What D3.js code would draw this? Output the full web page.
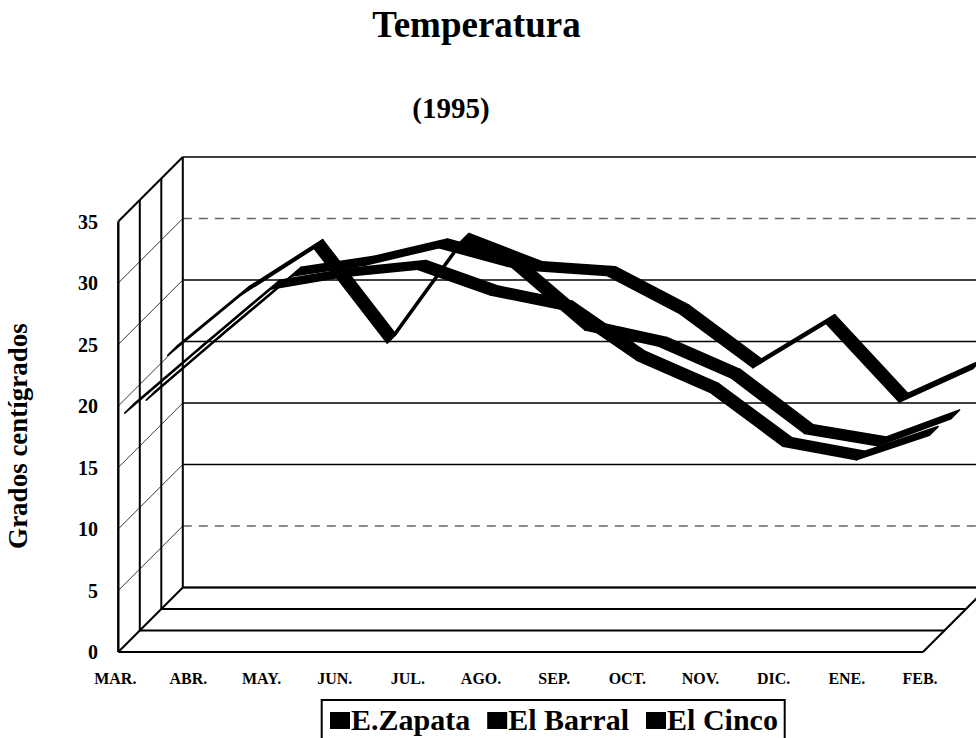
<!DOCTYPE html>
<html>
<head>
<meta charset="utf-8">
<script src="https://cdn.jsdelivr.net/npm/d3@7"></script>
<style>
  body { margin: 0; background: #fff; }
  text { font-family: "Liberation Serif", "Times New Roman", serif; font-weight: bold; fill: #000; }
</style>
</head>
<body>
<svg id="chart" width="976" height="738"></svg>
<script>
// Monthly mean temperature (°C), March 1995 to February 1996
const months = ["MAR.", "ABR.", "MAY.", "JUN.", "JUL.", "AGO.", "SEP.", "OCT.", "NOV.", "DIC.", "ENE.", "FEB."];
const seriesNames = ["E.Zapata", "El Barral", "El Cinco"];
const zapata = [18.9, 24.0, 29.0, 30.0, 30.6, 28.5, 27.3, 23.2, 20.6, 16.2, 15.1, 17.1];
const barral = [18.2, 23.3, 28.3, 29.2, 30.6, 29.0, 23.9, 22.6, 20.0, 15.5, 14.5, 16.7];
const cinco  = [20.1, 25.0, 28.8, 21.1, 29.3, 27.0, 26.6, 23.5, 19.1, 22.7, 16.3, 19.0];
const yTicks = [0, 5, 10, 15, 20, 25, 30, 35];

const seriesValues = [zapata, barral, cinco];

const svg = d3.select("#chart");

// Front plane of the 3-D box; depth runs up and to the right
const x = d3.scalePoint().domain(months).range([118.3, 923]);
const y = d3.scaleLinear().domain([0, 35]).range([652, 221.5]);
const depth = d3.scaleLinear().domain([0, seriesNames.length]).range([0, 64.5]);
const proj = (px, py, d) => [px + d, py - d];

const x0 = x.range()[0], x1 = x.range()[1];
const dMax = depth(seriesNames.length);
const line = d3.line();

const walls = svg.append("g");

// Back wall gridlines
yTicks.forEach(v => {
  const dashed = (v === 5 || v === 30);
  walls.append("path")
    .attr("d", line([proj(x0, y(v), dMax), proj(x1, y(v), dMax)]))
    .attr("fill", "none")
    .attr("stroke", dashed ? "#666" : "#000")
    .attr("stroke-width", dashed ? 1.4 : 1.5)
    .attr("stroke-dasharray", dashed ? "9,7" : null);
});

// Side wall gridlines (thin diagonals)
yTicks.filter(v => v > 0 && v < 35).forEach(v => {
  walls.append("path")
    .attr("d", line([proj(x0, y(v), 0), proj(x0, y(v), dMax)]))
    .attr("stroke", "#222")
    .attr("stroke-width", 0.9);
});

// Side wall vertical dividers at each series row, plus its outer edges
d3.range(0, seriesNames.length + 1).forEach(k => {
  const d = depth(k);
  walls.append("path")
    .attr("d", line([proj(x0, y(35), d), proj(x0, y(0), d)]))
    .attr("stroke", "#000")
    .attr("stroke-width", k === 0 ? 2.4 : 2);
});

// Side wall top edge
walls.append("path")
  .attr("d", line([proj(x0, y(35), 0), proj(x0, y(35), dMax)]))
  .attr("stroke", "#000").attr("stroke-width", 2);

// Floor: one line per row boundary plus both diagonal edges
d3.range(0, seriesNames.length + 1).forEach(k => {
  const d = depth(k);
  walls.append("path")
    .attr("d", line([proj(x0, y(0), d), proj(x1, y(0), d)]))
    .attr("stroke", "#000")
    .attr("stroke-width", 2);
});
[x0, x1].forEach(px => {
  walls.append("path")
    .attr("d", line([proj(px, y(0), 0), proj(px, y(0), dMax)]))
    .attr("stroke", "#000").attr("stroke-width", 2);
});

// Ribbons: each series occupies the middle 40% of its depth row
const ribbons = svg.append("g");
d3.range(seriesNames.length - 1, -1, -1).forEach(k => {
  const vals = seriesValues[k];
  const dF = depth(k + 0.3), dB = depth(k + 0.7);
  const g = ribbons.append("g").attr("class", "series-" + k);
  for (let i = 0; i < months.length - 1; i++) {
    const xa = x(months[i]), xb = x(months[i + 1]);
    const ya = y(vals[i]), yb = y(vals[i + 1]);
    g.append("path")
      .attr("d", line([proj(xa, ya, dF), proj(xb, yb, dF), proj(xb, yb, dB), proj(xa, ya, dB)]) + "Z")
      .attr("fill", "#000")
      .attr("stroke", "#000")
      .attr("stroke-width", 1.6)
      .attr("stroke-linejoin", "round");
  }
});

// Value axis labels on the front edge
svg.append("g").selectAll("text")
  .data(yTicks)
  .join("text")
  .attr("x", 98)
  .attr("y", v => y(v) + 7)
  .attr("text-anchor", "end")
  .style("font-size", "20px")
  .text(v => v);

// Category labels
svg.append("g").selectAll("text")
  .data(months)
  .join("text")
  .attr("x", m => x(m) - 3)
  .attr("y", 684)
  .attr("text-anchor", "middle")
  .style("font-size", "16px")
  .text(m => m);

// Titles
svg.append("text")
  .attr("x", 476.5).attr("y", 37)
  .attr("text-anchor", "middle")
  .style("font-size", "37px")
  .text("Temperatura");

svg.append("text")
  .attr("x", 451).attr("y", 118)
  .attr("text-anchor", "middle")
  .style("font-size", "29px")
  .text("(1995)");

svg.append("text")
  .attr("transform", "translate(27,436) rotate(-90)")
  .attr("text-anchor", "middle")
  .style("font-size", "27px")
  .text("Grados centígrados");

// Legend
const legend = svg.append("g");
legend.append("rect")
  .attr("x", 321.7).attr("y", 700)
  .attr("width", 463).attr("height", 60)
  .attr("fill", "#fff").attr("stroke", "#000").attr("stroke-width", 2);

let lx = 330;
seriesNames.forEach(name => {
  legend.append("rect")
    .attr("x", lx).attr("y", 712)
    .attr("width", 20).attr("height", 17)
    .attr("fill", "#000");
  const t = legend.append("text")
    .attr("x", lx + 21).attr("y", 730)
    .style("font-size", "30px")
    .text(name);
  lx += 21 + t.node().getComputedTextLength() + 17;
});
</script>
</body>
</html>
